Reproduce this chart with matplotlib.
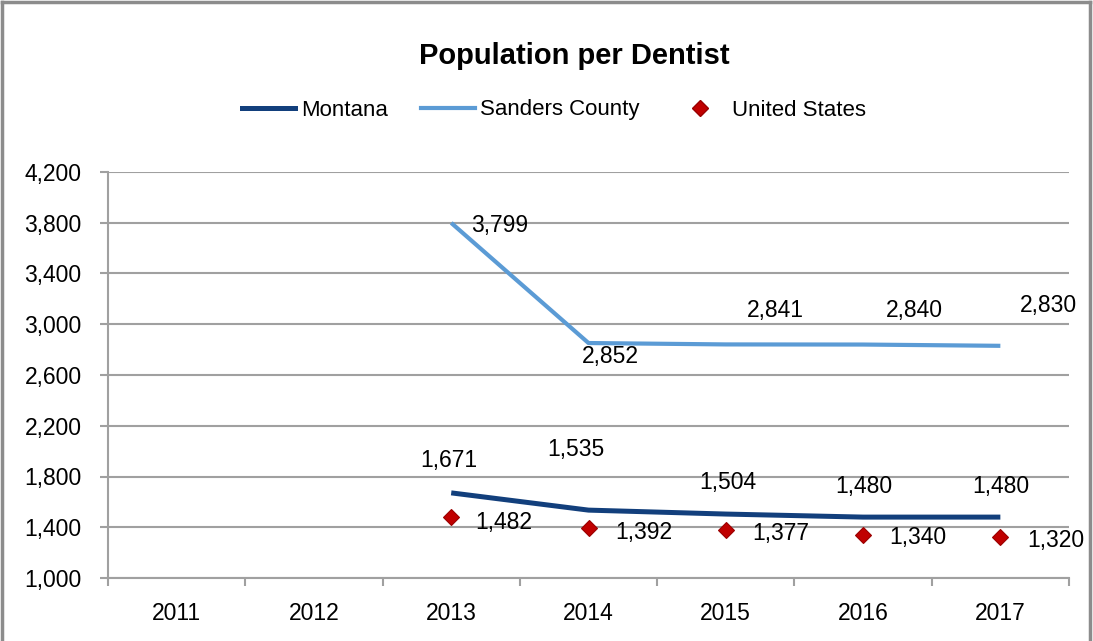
import matplotlib
matplotlib.use("Agg")
import matplotlib.pyplot as plt
from matplotlib.lines import Line2D
import numpy as np

# data
years = ["2011", "2012", "2013", "2014", "2015", "2016", "2017"]
montana = [None, None, 1671, 1535, 1504, 1480, 1480]
sanders = [None, None, 3799, 2852, 2841, 2840, 2830]
united_states = [None, None, 1482, 1392, 1377, 1340, 1320]
yticks = [1000, 1400, 1800, 2200, 2600, 3000, 3400, 3800, 4200]

# label offsets in pixels (dx, dy)
montana_off = [None, None, (-2, 32), (-13, 61), (2, 32), (1, 31), (0, 31)]
sanders_off = [None, None, (20, -3), (22, -13), (50, 34), (51, 34), (48, 40)]
us_off = [None, None, (53, -6), (55, -4), (55, -3), (55, -3), (55, -3)]

plt.rcParams['font.family'] = ['Liberation Sans', 'DejaVu Sans']

c_mt = "#123F7C"
c_sc = "#5B9BD5"
c_us = "#C00000"
grid_c = "#A0A0A0"
fs = 16.5

fig = plt.figure(figsize=(10.93, 6.41), dpi=100)
ax = fig.add_axes([108/1093, 1 - 578/641, (1069-108)/1093, (578-172)/641])

x = np.arange(len(years))

def valid(vals):
    xs = [i for i, v in enumerate(vals) if v is not None]
    return xs, [vals[i] for i in xs]

mx, my = valid(montana)
sx, sy = valid(sanders)
ux, uy = valid(united_states)

ax.plot(sx, sy, color=c_sc, lw=3.0, solid_capstyle='butt', zorder=3)
ax.plot(mx, my, color=c_mt, lw=3.6, solid_capstyle='butt', zorder=3)
ax.plot(ux, uy, ls='none', marker='D', ms=8, color=c_us, mec="#9A0000", mew=0.8, zorder=4)

for xs, ys, offs in [(mx, my, montana_off), (sx, sy, sanders_off), (ux, uy, us_off)]:
    for i, v in zip(xs, ys):
        dx, dy = offs[i]
        ax.annotate(f"{v:,}", (i, v), xytext=(dx, dy), textcoords='offset pixels',
                    ha='center', va='center', fontsize=fs, color='black', zorder=5)
# first sanders label left-aligned next to point
ax.texts[len(mx)].set_ha('left')

ax.set_xlim(-0.5, len(years) - 0.5)
ax.set_ylim(1000, 4200)
ax.set_yticks(yticks)
ax.set_yticklabels([f"{t:,}" for t in yticks], fontsize=fs)
ax.set_xticks(x)
ax.set_xticklabels(years, fontsize=fs)
ax.set_xticks(np.arange(-0.5, len(years), 1.0), minor=True)
ax.tick_params(axis='x', which='major', length=0, pad=17)
ax.tick_params(axis='x', which='minor', length=6, color=grid_c, width=1.5)
ax.tick_params(axis='y', length=6, color=grid_c, width=1.5, pad=13)
ax.yaxis.grid(True, color=grid_c, lw=1.5)
ax.set_axisbelow(True)
for s in ['top', 'right']:
    ax.spines[s].set_visible(False)
for s in ['left', 'bottom']:
    ax.spines[s].set_color(grid_c)
    ax.spines[s].set_linewidth(1.5)

fig.text(574/1093, 1 - 64/641, "Population per Dentist", ha='center', va='baseline',
         fontsize=21, fontweight='bold')

handles = [Line2D([], [], color=c_mt, lw=3.6),
           Line2D([], [], color=c_sc, lw=3.0),
           Line2D([], [], ls='none', marker='D', ms=8, color=c_us, mec="#9A0000")]
fig.legend(handles, ["Montana", "Sanders County", "United States"], loc='center',
           bbox_to_anchor=(554/1093, 1 - 110/641), ncol=3, frameon=False, fontsize=16,
           handlelength=2.4, columnspacing=1.5, handletextpad=0.25)

# outer frame
frame = dict(color="#8C8C8C", lw=2.5, transform=fig.transFigure, clip_on=False)
fig.add_artist(Line2D([2/1093, 2/1093], [0, 1 - 2/641], **frame))
fig.add_artist(Line2D([2/1093, 1090/1093], [1 - 2/641, 1 - 2/641], **frame))
fig.add_artist(Line2D([1090/1093, 1090/1093], [0, 1 - 2/641], **frame))

fig.savefig("out.png", dpi=100)
